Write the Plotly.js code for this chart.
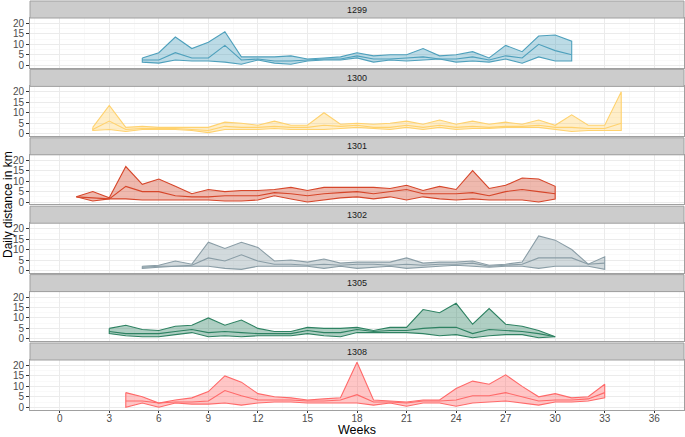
<!DOCTYPE html>
<html><head><meta charset="utf-8">
<script src="https://cdn.plot.ly/plotly-3.0.1.min.js"></script>
<style>html,body{margin:0;padding:0;background:#fff}#chart{width:685px;height:437px}</style>
</head><body><div id="chart"></div>
<script>
const ids = ["1299","1300","1301","1302","1305","1308"];

const weeks1299 = [5,6,7,8,9,10,11,12,13,14,15,16,17,18,19,20,21,22,23,24,25,26,27,28,29,30,31];
const hi1299  = [3.5,6,13.5,8,11,16,4,4,4,4.5,3,3.5,4,6,4.5,5,5,8,4.5,5,6.5,3.5,9.5,6.5,14,14.5,11.5];
const mid1299 = [2.5,2.5,6,3.5,3.5,9.5,2.5,3,2,2,2.5,3,3,4.5,3,3,3.5,4,3,3,4,2.5,4.5,3.5,10,7,5];
const lo1299  = [1.5,1,2.5,2,2,1.5,0.5,2.5,1,0.5,2,2.5,2.5,3.5,1.5,2.5,2,2.5,3,1.5,2,1.5,3,1,4,2,2];

const weeks1300 = [2,3,4,5,6,7,8,9,10,11,12,13,14,15,16,17,18,19,20,21,22,23,24,25,26,27,28,29,30,31,32,33,34];
const hi1300  = [3,13.5,3,3.5,3,3,3,3,5.5,5,4,6,4,4,10,4.5,5,4.5,5,6,4.5,6.5,4.5,6,4.5,5.5,4.5,6.5,4,9,4,4,20];
const mid1300 = [2,6,2,2.5,2.5,2.5,2,1.5,3.5,3,3,3.5,3,3,4,3.5,4,3,3,4,3,4,3,3.5,3,3.5,3.5,4,3,3,2.5,2.5,5];
const lo1300  = [1.5,2,1,2,2,2,1.5,0.5,2,2,2,2.5,2,2,2,2.5,3,2.5,2,3,2,3,2,2.5,2.5,3,3,3,2,1,1.5,1.5,1.5];

const weeks1301 = [1,2,3,4,5,6,7,8,9,10,11,12,13,14,15,16,17,18,19,20,21,22,23,24,25,26,27,28,29,30];
const hi1301  = [2.5,5,2,17,8.5,11,7.5,4,6,5,5.5,5.5,6,7,5.5,7,7,7,7,6.5,8,5.5,7.5,6,15,6.5,8,11.5,11,7.5];
const mid1301 = [2.5,2,1.5,7.5,5,5,3,2.5,2.5,3,3,3,4.5,4,3,4,4.5,5,4,5,6,4,4,4,4.5,3,5,6,5,4];
const lo1301  = [2.5,0.5,1.5,1.5,1,1,1,1,1,0.5,0.5,1,3,1.5,0,1,2,2.5,1.5,2.5,1,2.5,1.5,1,1.5,1,1,1,0,1.5];

const weeks1302 = [5,6,7,8,9,10,11,12,13,14,15,16,17,18,19,20,21,22,23,24,25,26,27,28,29,30,31,32,33];
const hi1302  = [2,2.5,4.5,3,13.5,10.5,13.5,11,4.5,5,4,5.5,3.5,4,4,4,6,3.5,4,4,4.5,2.5,3,4,16.5,14.5,10,3,6.5];
const mid1302 = [1.5,2,2,2.5,6,4.5,7.5,4.5,3,3,2.5,3,2.5,3,3,2.5,3,2.5,3,3,3.5,2,2.5,3,6,6,6,3,3.5];
const lo1302  = [1,1.5,2,2,2,1,0.5,2,2,2,2,1,2,1,1.5,2,1,1.5,2,2.5,2,1.5,2,2,1,2,2,2,0.5];

const weeks1305 = [3,4,5,6,7,8,9,10,11,12,13,14,15,16,17,18,19,20,21,22,23,24,25,26,27,28,29,30];
const hi1305  = [5,6.5,4.5,4,6,6.5,10,6.5,9,5,3.5,3.5,5.5,5,5,5.5,4,5.5,5.5,14,12.5,17,7,14.5,7,6,4,1];
const mid1305 = [3.5,2.5,2.5,2.5,3.5,4.5,3,3.5,3,2.5,2.5,2.5,4,3,3,4.5,3.5,4,4,5,5.5,5.5,2.5,4.5,4,3.5,2.5,1];
const lo1305  = [2.5,1.5,1,1,2,3,1,1.5,1,1.5,1.5,1.5,2.5,1.5,1,3,3,3,3,2.5,1.5,2,0.5,1.5,2,2,0.5,1];

const weeks1308 = [4,5,6,7,8,9,10,11,12,13,14,15,16,17,18,19,20,21,22,23,24,25,26,27,28,29,30,31,32,33];
const hi1308  = [7,5,2,3.5,4.5,7.5,15,12,6.5,5,4.5,3.5,4,4.5,21.5,3.5,3,2.5,3.5,3.5,9,12.5,11,15.5,10,5,6.5,4.5,5,11];
const mid1308 = [3,3,2,2.5,2.5,3,8,5.5,3.5,3.5,3.5,3,3,3.5,6,2.5,2.5,2,3,3,3.5,5.5,5.5,7,5,3,3.5,3.5,4,7];
const lo1308  = [0,2,0,2,1.5,1.5,2,1,2,2.5,2.5,2,2,2,2,1,2,0.5,2,2,0.5,2,2.5,3,2,1,2.5,2.5,3,4.5];

const xTicks = [0,3,6,9,12,15,18,21,24,27,30,33,36];
const yTicks = [0,5,10,15,20];

const series = {
  "1299": [weeks1299, hi1299, mid1299, lo1299],
  "1300": [weeks1300, hi1300, mid1300, lo1300],
  "1301": [weeks1301, hi1301, mid1301, lo1301],
  "1302": [weeks1302, hi1302, mid1302, lo1302],
  "1305": [weeks1305, hi1305, mid1305, lo1305],
  "1308": [weeks1308, hi1308, mid1308, lo1308]
};
const lineCol = {"1299":"rgb(78,160,188)","1300":"rgb(255,210,110)","1301":"rgb(214,70,42)","1302":"rgb(138,157,166)","1305":"rgb(46,130,98)","1308":"rgb(255,105,105)"};
const fillCol = {"1299":"rgba(78,160,188,0.38)","1300":"rgba(255,210,110,0.38)","1301":"rgba(214,70,42,0.38)","1302":"rgba(138,157,166,0.38)","1305":"rgba(46,130,98,0.38)","1308":"rgba(255,105,105,0.38)"};

const W = 685, H = 437;
const mL = 30, mR = 1, mT = 1, mB = 27;
const plotH = H - mT - mB;
const fy = p => (H - mB - p) / plotH;

const traces = [];
const layout = {
  width: W, height: H,
  margin: {l: mL, r: mR, t: mT, b: mB, pad: 0},
  paper_bgcolor: "#fff", plot_bgcolor: "#fff",
  showlegend: false,
  font: {family: "Liberation Sans, Arial, sans-serif", size: 10, color: "#4D4D4D"},
  shapes: [], annotations: []
};

ids.forEach((id, i) => {
  const s = i === 0 ? "" : String(i + 1);
  const [wk, hi, md, lo] = series[id];
  const xs = wk.concat(wk.slice().reverse(), [wk[0]]);
  const ys = hi.concat(lo.slice().reverse(), [hi[0]]);
  traces.push({x: xs, y: ys, type: "scatter", mode: "lines", fill: "toself",
    fillcolor: fillCol[id], line: {color: lineCol[id], width: 1.1},
    xaxis: "x" + s, yaxis: "y" + s, hoverinfo: "skip"});
  traces.push({x: wk, y: md, type: "scatter", mode: "lines",
    line: {color: lineCol[id], width: 1.1}, xaxis: "x" + s, yaxis: "y" + s});

  const top = 18 + 68.4 * i, bot = top + 49.5;
  const last = i === ids.length - 1;
  layout["xaxis" + s] = {
    domain: [0, 1], anchor: "y" + s, range: [-1.8, 37.8],
    tickvals: xTicks, ticktext: xTicks.map(String), showticklabels: last,
    ticks: last ? "outside" : "", ticklen: 2, tickcolor: "#333", tickwidth: 1,
    ticklabelstandoff: -3,
    showgrid: true, gridcolor: "#EBEBEB", gridwidth: 1,
    minor: {dtick: 1.5, tick0: 1.5, showgrid: true, gridcolor: "#F5F5F5", gridwidth: 0.6},
    zeroline: false, showline: true, mirror: true, linecolor: "#A0A0A0", linewidth: 1,
    tickfont: {size: 10, color: "#4D4D4D"},
    title: {text: ""}
  };
  layout["yaxis" + s] = {
    domain: [fy(bot), fy(top)], anchor: "x" + s, range: [-1.075, 22.6],
    tickvals: yTicks, ticktext: yTicks.map(String),
    ticks: "outside", ticklen: 3, tickcolor: "#333", tickwidth: 1,
    showgrid: true, gridcolor: "#EBEBEB", gridwidth: 1,
    minor: {dtick: 2.5, tick0: 2.5, showgrid: true, gridcolor: "#F5F5F5", gridwidth: 0.6},
    zeroline: false, showline: true, mirror: true, linecolor: "#A0A0A0", linewidth: 1,
    tickfont: {size: 10, color: "#4D4D4D"}
  };
  layout.shapes.push({type: "rect", xref: "paper", yref: "paper", x0: 0, x1: 1,
    y0: fy(top), y1: fy(top - 17), fillcolor: "#CCCCCC", line: {color: "#A0A0A0", width: 1}, layer: "above"});
  layout.annotations.push({xref: "paper", yref: "paper", x: 0.5, y: fy(top - 8.5),
    text: id, showarrow: false, xanchor: "center", yanchor: "middle",
    font: {size: 9, color: "#1A1A1A"}});
});

layout.annotations.push({xref: "paper", yref: "paper", x: (8 - mL) / (W - mL - mR), y: fy(205),
  text: "Daily distance in km", textangle: -90, showarrow: false,
  xanchor: "center", yanchor: "middle", font: {size: 12, color: "#000"}});
layout.annotations.push({xref: "paper", yref: "paper", x: 0.5, y: fy(430),
  text: "Weeks", showarrow: false, xanchor: "center", yanchor: "middle",
  font: {size: 12.5, color: "#000"}});

Plotly.newPlot("chart", traces, layout, {staticPlot: true, displayModeBar: false});
</script>
</body></html>
